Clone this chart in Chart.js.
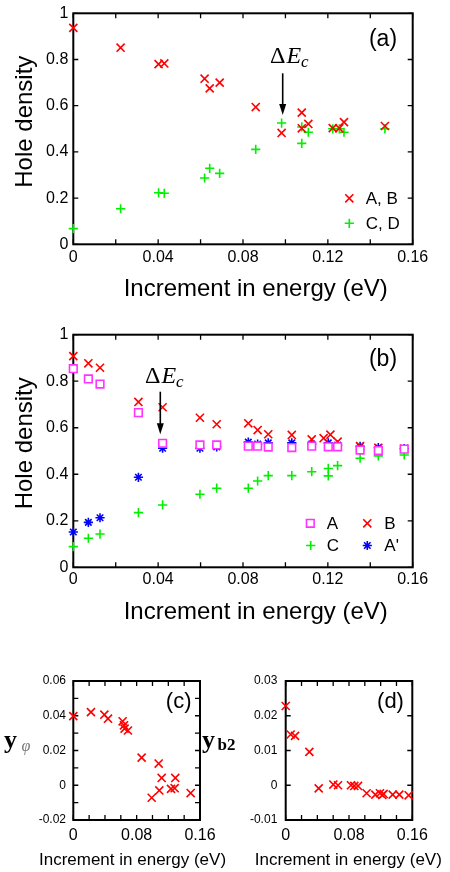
<!DOCTYPE html>
<html>
<head>
<meta charset="utf-8">
<script src="https://cdn.jsdelivr.net/npm/chart.js@4/dist/chart.umd.min.js"></script>
<style>
  body { margin: 0; background: #fff; }
  #wrap { position: relative; width: 450px; height: 872px; overflow: hidden; }
  canvas { position: absolute; }
</style>
</head>
<body>
<div id="wrap">
  <canvas id="graphA" width="450" height="310" style="left:0;top:0"></canvas>
  <canvas id="graphB" width="450" height="320" style="left:0;top:310px"></canvas>
  <canvas id="graphC" width="230" height="232" style="left:0;top:640px"></canvas>
  <canvas id="graphD" width="255" height="232" style="left:195px;top:640px"></canvas>
</div>
<script>
// Hole densities vs. increment in energy, four panels

// panel (a)
var energyA = [0, 0.0223, 0.0402, 0.0429, 0.0619, 0.0643, 0.069, 0.086, 0.0982, 0.1077, 0.1077, 0.1108, 0.1223, 0.1254, 0.1276, 0.1469];
var densityAB = [0.937, 0.851, 0.780, 0.783, 0.717, 0.675, 0.700, 0.594, 0.482, 0.570, 0.502, 0.521, 0.503, 0.502, 0.529, 0.512];
var densityCD = [0.068, 0.154, 0.223, 0.221, 0.287, 0.329, 0.307, 0.411, 0.525, 0.437, 0.508, 0.485, 0.500, 0.500, 0.485, 0.500];

// panel (b)
var energyB = [0, 0.0071, 0.0126, 0.0307, 0.0421, 0.0597, 0.0676, 0.0825, 0.0869, 0.0919, 0.103, 0.1124, 0.1202, 0.1246, 0.1352, 0.1438, 0.156];
var densityA = [0.854, 0.810, 0.788, 0.665, 0.533, 0.526, 0.526, 0.521, 0.521, 0.517, 0.515, 0.521, 0.518, 0.518, 0.504, 0.502, 0.508];
var densityAprime = [0.152, 0.193, 0.213, 0.387, 0.512, 0.512, 0.518, 0.538, 0.530, 0.535, 0.535, 0.530, 0.535, 0.525, 0.520, 0.515, 0.510];
var energyBred = [0, 0.0071, 0.0126, 0.0307, 0.0421, 0.0597, 0.0676, 0.0825, 0.0869, 0.0919, 0.103, 0.1124, 0.118, 0.1212, 0.1246, 0.1352, 0.1438, 0.156];
var densityB = [0.908, 0.877, 0.858, 0.711, 0.688, 0.643, 0.615, 0.619, 0.590, 0.572, 0.569, 0.550, 0.555, 0.570, 0.540, 0.521, 0.514, 0.510];
var energyCgreen = [0, 0.0071, 0.0126, 0.0307, 0.0421, 0.0597, 0.0676, 0.0825, 0.0869, 0.0919, 0.103, 0.1124, 0.1202, 0.1202, 0.1246, 0.1352, 0.1438, 0.156];
var densityC = [0.089, 0.125, 0.143, 0.235, 0.268, 0.314, 0.340, 0.340, 0.371, 0.394, 0.394, 0.411, 0.425, 0.393, 0.437, 0.469, 0.479, 0.483];

// panel (c)
var energyPhi = [0, 0.0223, 0.0392, 0.0438, 0.0623, 0.064, 0.0648, 0.069, 0.0863, 0.099, 0.1078, 0.1086, 0.1116, 0.1234, 0.128, 0.1288, 0.1482];
var yPhi = [0.0398, 0.0421, 0.0406, 0.0383, 0.0368, 0.0345, 0.0326, 0.0315, 0.0159, -0.0072, 0.0125, -0.003, 0.0042, -0.0021, -0.0017, 0.0042, -0.0045];

// panel (d)
var energyB2 = [0, 0.0063, 0.0118, 0.0299, 0.0417, 0.0602, 0.0661, 0.0825, 0.0867, 0.0914, 0.1023, 0.1133, 0.1192, 0.1221, 0.1238, 0.1352, 0.1436, 0.1554];
var yB2 = [0.0228, 0.0146, 0.0142, 0.0096, -0.0009, 0.0002, 0, 0, -0.0002, -0.0002, -0.0023, -0.0027, -0.0023, -0.0028, -0.0025, -0.0027, -0.0027, -0.0029];

// tick labels
var xLabelsWide = [0, 0.04, 0.08, 0.12, 0.16];
var xLabelsNarrow = [0, 0.08, 0.16];
var yLabelsDensity = [0, 0.2, 0.4, 0.6, 0.8, 1];
var yLabelsPhi = [-0.02, 0, 0.02, 0.04, 0.06];
var yLabelsB2 = [-0.01, 0, 0.01, 0.02, 0.03];

var RED = "#ff0000", GREEN = "#00f000", MAGENTA = "#ff33ff", BLUE = "#0000ff";
var SANS = "'Liberation Sans', Arial, Helvetica, sans-serif";
var SERIF = "'Liberation Serif', 'Times New Roman', serif";

Chart.defaults.font.family = SANS;
Chart.defaults.color = "#000";

function pts(xs, ys) {
  return xs.map(function(x, i) { return { x: x, y: ys[i] }; });
}

function fmt(v) {
  return String(parseFloat(v.toFixed(4)));
}

function labelIf(list) {
  return function(value) {
    for (var i = 0; i < list.length; i++) {
      if (Math.abs(list[i] - value) < 1e-9) return fmt(value);
    }
    return "";
  };
}

function axis(min, max, step, labels, size, pad, fixed, isX) {
  return {
    type: "linear",
    min: min,
    max: max,
    grid: { display: false, drawTicks: false },
    border: { display: false },
    ticks: {
      stepSize: step,
      autoSkip: false,
      maxRotation: 0,
      padding: pad,
      font: { size: size },
      color: "#000",
      callback: labelIf(labels)
    },
    afterFit: function(s) {
      if (isX) s.height = fixed; else s.width = fixed;
      s.paddingLeft = 0; s.paddingRight = 0; s.paddingTop = 0; s.paddingBottom = 0;
    }
  };
}

function series(xs, ys, style, color, r, fill) {
  return {
    data: pts(xs, ys),
    pointStyle: style,
    pointRadius: r,
    pointBorderWidth: 1.6,
    borderColor: color,
    pointBorderColor: color,
    backgroundColor: fill || "rgba(0,0,0,0)",
    pointBackgroundColor: fill || "rgba(0,0,0,0)",
    clip: false
  };
}

// box with inward ticks on all four sides
var framePlugin = {
  id: "frame",
  beforeDatasetsDraw: function(chart) {
    var ctx = chart.ctx, a = chart.chartArea;
    var xs = chart.scales.x, ys = chart.scales.y;
    var len = 5;
    ctx.save();
    ctx.strokeStyle = "#000";
    ctx.lineWidth = 1.3;
    ctx.beginPath();
    xs.ticks.forEach(function(t) {
      var px = xs.getPixelForValue(t.value);
      ctx.moveTo(px, a.bottom); ctx.lineTo(px, a.bottom - len);
      ctx.moveTo(px, a.top); ctx.lineTo(px, a.top + len);
    });
    ys.ticks.forEach(function(t) {
      var py = ys.getPixelForValue(t.value);
      ctx.moveTo(a.left, py); ctx.lineTo(a.left + len, py);
      ctx.moveTo(a.right, py); ctx.lineTo(a.right - len, py);
    });
    ctx.stroke();
    ctx.lineWidth = 2;
    ctx.strokeRect(a.left, a.top, a.right - a.left, a.bottom - a.top);
    ctx.restore();
  }
};

function drawMarker(ctx, style, color, x, y, r) {
  ctx.save();
  ctx.strokeStyle = color;
  ctx.lineWidth = 1.6;
  ctx.beginPath();
  var h = r * Math.SQRT1_2;
  if (style === "crossRot" || style === "star") {
    ctx.moveTo(x - h, y - h); ctx.lineTo(x + h, y + h);
    ctx.moveTo(x - h, y + h); ctx.lineTo(x + h, y - h);
  }
  if (style === "cross" || style === "star") {
    ctx.moveTo(x - r, y); ctx.lineTo(x + r, y);
    ctx.moveTo(x, y - r); ctx.lineTo(x, y + r);
  }
  if (style === "rect") {
    ctx.rect(x - h, y - h, 2 * h, 2 * h);
  }
  ctx.stroke();
  ctx.restore();
}

// texts, arrow and legend of one panel
function notes(spec) {
  return {
    id: "notes",
    afterDraw: function(chart) {
      var ctx = chart.ctx;
      (spec.texts || []).forEach(function(t) {
        ctx.save();
        ctx.font = t.font;
        ctx.fillStyle = t.color || "#000";
        ctx.textAlign = t.align || "left";
        ctx.textBaseline = "alphabetic";
        ctx.translate(t.x, t.y);
        if (t.rot) ctx.rotate(t.rot);
        ctx.fillText(t.text, 0, 0);
        ctx.restore();
      });
      if (spec.delta) {
        var d = spec.delta;
        ctx.save();
        ctx.fillStyle = "#000";
        ctx.textBaseline = "alphabetic";
        ctx.font = "24px " + SERIF;
        ctx.fillText("\u0394", d.x, d.y);
        var w = ctx.measureText("\u0394").width + 1;
        ctx.font = "italic 24px " + SERIF;
        ctx.fillText("E", d.x + w, d.y);
        w += ctx.measureText("E").width;
        ctx.font = "italic 17px " + SERIF;
        ctx.fillText("c", d.x + w, d.y + 4);
        // arrow
        ctx.strokeStyle = "#000";
        ctx.lineWidth = 1.6;
        ctx.beginPath();
        ctx.moveTo(d.ax, d.ay1);
        ctx.lineTo(d.ax, d.ay2 - 8);
        ctx.stroke();
        ctx.beginPath();
        ctx.moveTo(d.ax, d.ay2);
        ctx.lineTo(d.ax - 3.5, d.ay2 - 11);
        ctx.lineTo(d.ax + 3.5, d.ay2 - 11);
        ctx.closePath();
        ctx.fill();
        ctx.restore();
      }
      (spec.legend || []).forEach(function(l) {
        drawMarker(ctx, l.style, l.color, l.x, l.y, l.r);
        ctx.save();
        ctx.font = "17px " + SANS;
        ctx.fillStyle = "#000";
        ctx.textBaseline = "middle";
        ctx.fillText(l.text, l.tx, l.y + 1);
        ctx.restore();
      });
    }
  };
}

function makePanel(id, datasets, opts, spec) {
  return new Chart(document.getElementById(id).getContext("2d"), {
    type: "scatter",
    data: { datasets: datasets },
    options: {
      responsive: false,
      animation: false,
      events: [],
      layout: { padding: opts.padding },
      plugins: { legend: { display: false }, tooltip: { enabled: false } },
      scales: { x: opts.x, y: opts.y }
    },
    plugins: [framePlugin, notes(spec)]
  });
}

// (a)
makePanel("graphA", [
  series(energyA, densityAB, "crossRot", RED, 5.7),
  series(energyA, densityCD, "cross", GREEN, 4.6)
], {
  padding: { left: 0, right: 37.3, top: 13.3, bottom: 0 },
  x: axis(0, 0.16, 0.02, xLabelsWide, 16, 3.6, 65.7, true),
  y: axis(0, 1, 0.2, yLabelsDensity, 16, 5, 73.3, false)
}, {
  texts: [
    { text: "(a)", font: "23px " + SANS, x: 383, y: 46, align: "center" },
    { text: "Hole density", font: "24px " + SANS, x: 31.5, y: 121.7, align: "center", rot: -Math.PI / 2 },
    { text: "Increment in energy (eV)", font: "24px " + SANS, x: 255.7, y: 295.5, align: "center" }
  ],
  delta: { x: 270, y: 63, ax: 282.7, ay1: 73.3, ay2: 115 },
  legend: [
    { style: "crossRot", color: RED, r: 5.7, x: 349.3, y: 198.3, tx: 365.7, text: "A, B" },
    { style: "cross", color: GREEN, r: 4.6, x: 349.3, y: 223.3, tx: 365.7, text: "C, D" }
  ]
});

// (b)  squares are opaque, A' stars sit underneath them
makePanel("graphB", [
  series(energyB, densityA, "rect", MAGENTA, 5.4, "#ffffff"),
  series(energyBred, densityB, "crossRot", RED, 5.7),
  series(energyCgreen, densityC, "cross", GREEN, 4.6),
  series(energyB, densityAprime, "star", BLUE, 4.6)
], {
  padding: { left: 0, right: 37.3, top: 24.7, bottom: 0 },
  x: axis(0, 0.16, 0.02, xLabelsWide, 16, 2.5, 62.7, true),
  y: axis(0, 1, 0.2, yLabelsDensity, 16, 5, 73.3, false)
}, {
  texts: [
    { text: "(b)", font: "23px " + SANS, x: 383, y: 56, align: "center" },
    { text: "Hole density", font: "24px " + SANS, x: 31.5, y: 133.3, align: "center", rot: -Math.PI / 2 },
    { text: "Increment in energy (eV)", font: "24px " + SANS, x: 255.7, y: 309, align: "center" }
  ],
  delta: { x: 145, y: 73, ax: 160.3, ay1: 81.7, ay2: 124.3 },
  legend: [
    { style: "rect", color: MAGENTA, r: 5.4, x: 310.3, y: 213.3, tx: 326.7, text: "A" },
    { style: "crossRot", color: RED, r: 5.7, x: 367.3, y: 213.3, tx: 384.3, text: "B" },
    { style: "cross", color: GREEN, r: 4.6, x: 310.7, y: 235.5, tx: 326.7, text: "C" },
    { style: "star", color: BLUE, r: 4.6, x: 367.3, y: 235.5, tx: 384.3, text: "A'" }
  ]
});

// (c)
makePanel("graphC", [
  series(energyPhi, yPhi, "crossRot", RED, 5.7)
], {
  padding: { left: 0, right: 30, top: 41, bottom: 0 },
  x: axis(0, 0.16, 0.02, xLabelsNarrow, 16, 6.4, 52, true),
  y: axis(-0.02, 0.06, 0.01, yLabelsPhi, 12, 7.3, 73.3, false)
}, {
  texts: [
    { text: "(c)", font: "22px " + SANS, x: 178.7, y: 68, align: "center" },
    { text: "y", font: "bold 26px " + SERIF, x: 4, y: 107.5 },
    { text: "\u03c6", font: "italic 16px " + SERIF, x: 21.5, y: 111, color: "#777" },
    { text: "Increment in energy (eV)", font: "17px " + SANS, x: 132.5, y: 225, align: "center" }
  ]
});

// (d)
makePanel("graphD", [
  series(energyB2, yB2, "crossRot", RED, 5.7)
], {
  padding: { left: 0, right: 37.7, top: 41, bottom: 0 },
  x: axis(0, 0.16, 0.02, xLabelsNarrow, 16, 6.4, 52, true),
  y: axis(-0.01, 0.03, 0.01, yLabelsB2, 12, 8.4, 90.7, false)
}, {
  texts: [
    { text: "(d)", font: "22px " + SANS, x: 195.5, y: 68, align: "center" },
    { text: "y", font: "bold 26px " + SERIF, x: 7, y: 107.5 },
    { text: "b2", font: "bold 17px " + SERIF, x: 22.5, y: 110 },
    { text: "Increment in energy (eV)", font: "17px " + SANS, x: 153.3, y: 225, align: "center" }
  ]
});
</script>
</body>
</html>
